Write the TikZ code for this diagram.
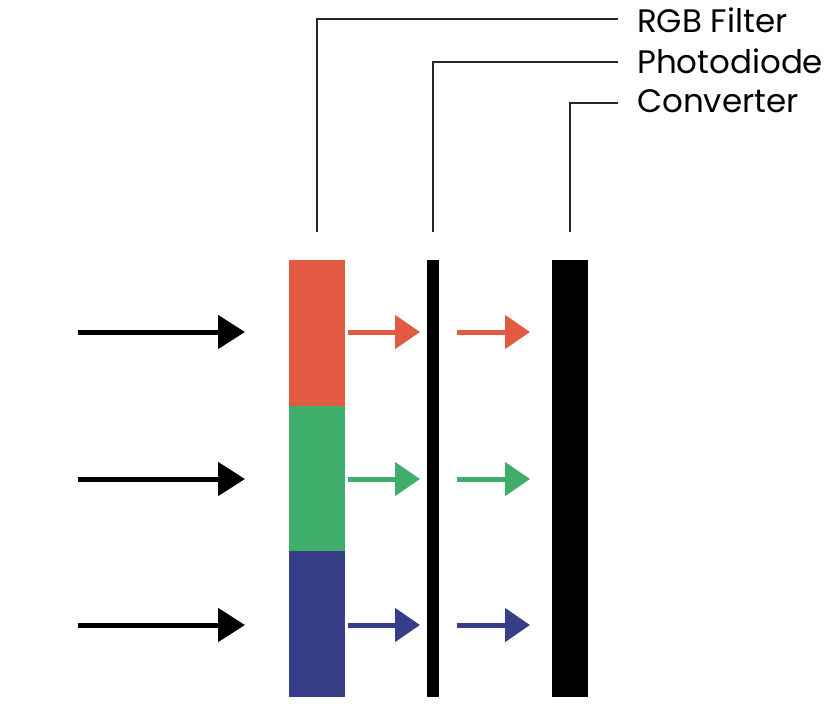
\documentclass[tikz,border=0pt]{standalone}
\usepackage{fontspec}
\setmainfont{Poppins}
\usetikzlibrary{arrows.meta}
\definecolor{cred}{RGB}{226,90,66}
\definecolor{cgreen}{RGB}{62,174,106}
\definecolor{cblue}{RGB}{53,62,135}
\tikzset{
  bar/.style={inner sep=0pt, outer sep=0pt, draw=none, anchor=north west},
  inarrow/.style={line width=5pt, -{Triangle[length=27pt,width=33pt]}},
  carrow/.style={line width=5pt, -{Triangle[length=25pt,width=33pt]}},
  leader/.style={line width=1.3pt, black!85},
  lbl/.style={anchor=west, inner sep=0pt, font=\fontsize{32.5}{36}\selectfont}
}
\begin{document}
\begin{tikzpicture}[x=1pt,y=-1pt]
\useasboundingbox (0,0) rectangle (835,726);
% filter
\node[bar, fill=cred, minimum width=56pt, minimum height=146pt] (red) at (289,260) {};
\node[bar, fill=cgreen, minimum width=56pt, minimum height=146pt] (green) at (289,405.5) {};
\node[bar, fill=cblue, minimum width=56pt, minimum height=146pt] (blue) at (289,551) {};
% photodiode and converter
\node[bar, fill=black, minimum width=12pt, minimum height=437pt] (pd) at (427,260) {};
\node[bar, fill=black, minimum width=36pt, minimum height=437pt] (cv) at (552,260) {};
% incoming arrows
\coordinate (s1) at (78,332);
\coordinate (s2) at (78,479);
\coordinate (s3) at (78,625);
\coordinate (e1) at (245,332);
\coordinate (e2) at (245,479);
\coordinate (e3) at (245,625);
\draw[inarrow] (s1) -- (e1);
\draw[inarrow] (s2) -- (e2);
\draw[inarrow] (s3) -- (e3);
% coloured arrows
\coordinate (a1) at (348,332);
\coordinate (b1) at (420,332);
\coordinate (c1) at (457,332);
\coordinate (d1) at (530,332);
\coordinate (a2) at (348,479);
\coordinate (b2) at (420,479);
\coordinate (c2) at (457,479);
\coordinate (d2) at (530,479);
\coordinate (a3) at (348,625);
\coordinate (b3) at (420,625);
\coordinate (c3) at (457,625);
\coordinate (d3) at (530,625);
\draw[carrow, cred] (a1) -- (b1);
\draw[carrow, cred] (c1) -- (d1);
\draw[carrow, cgreen] (a2) -- (b2);
\draw[carrow, cgreen] (c2) -- (d2);
\draw[carrow, cblue] (a3) -- (b3);
\draw[carrow, cblue] (c3) -- (d3);
% labels
\node[lbl] (lrgb) at (637,20) {RGB Filter};
\node[lbl] (lpd) at (637,61) {Photodiode};
\node[lbl] (lcv) at (637,101) {Converter};
\coordinate (t1) at (317,232);
\coordinate (t2) at (433,232);
\coordinate (t3) at (570,232);
\draw[leader] (t1) |- (618,19);
\draw[leader] (t2) |- (618,62);
\draw[leader] (t3) |- (618,103);
\end{tikzpicture}
\end{document}
